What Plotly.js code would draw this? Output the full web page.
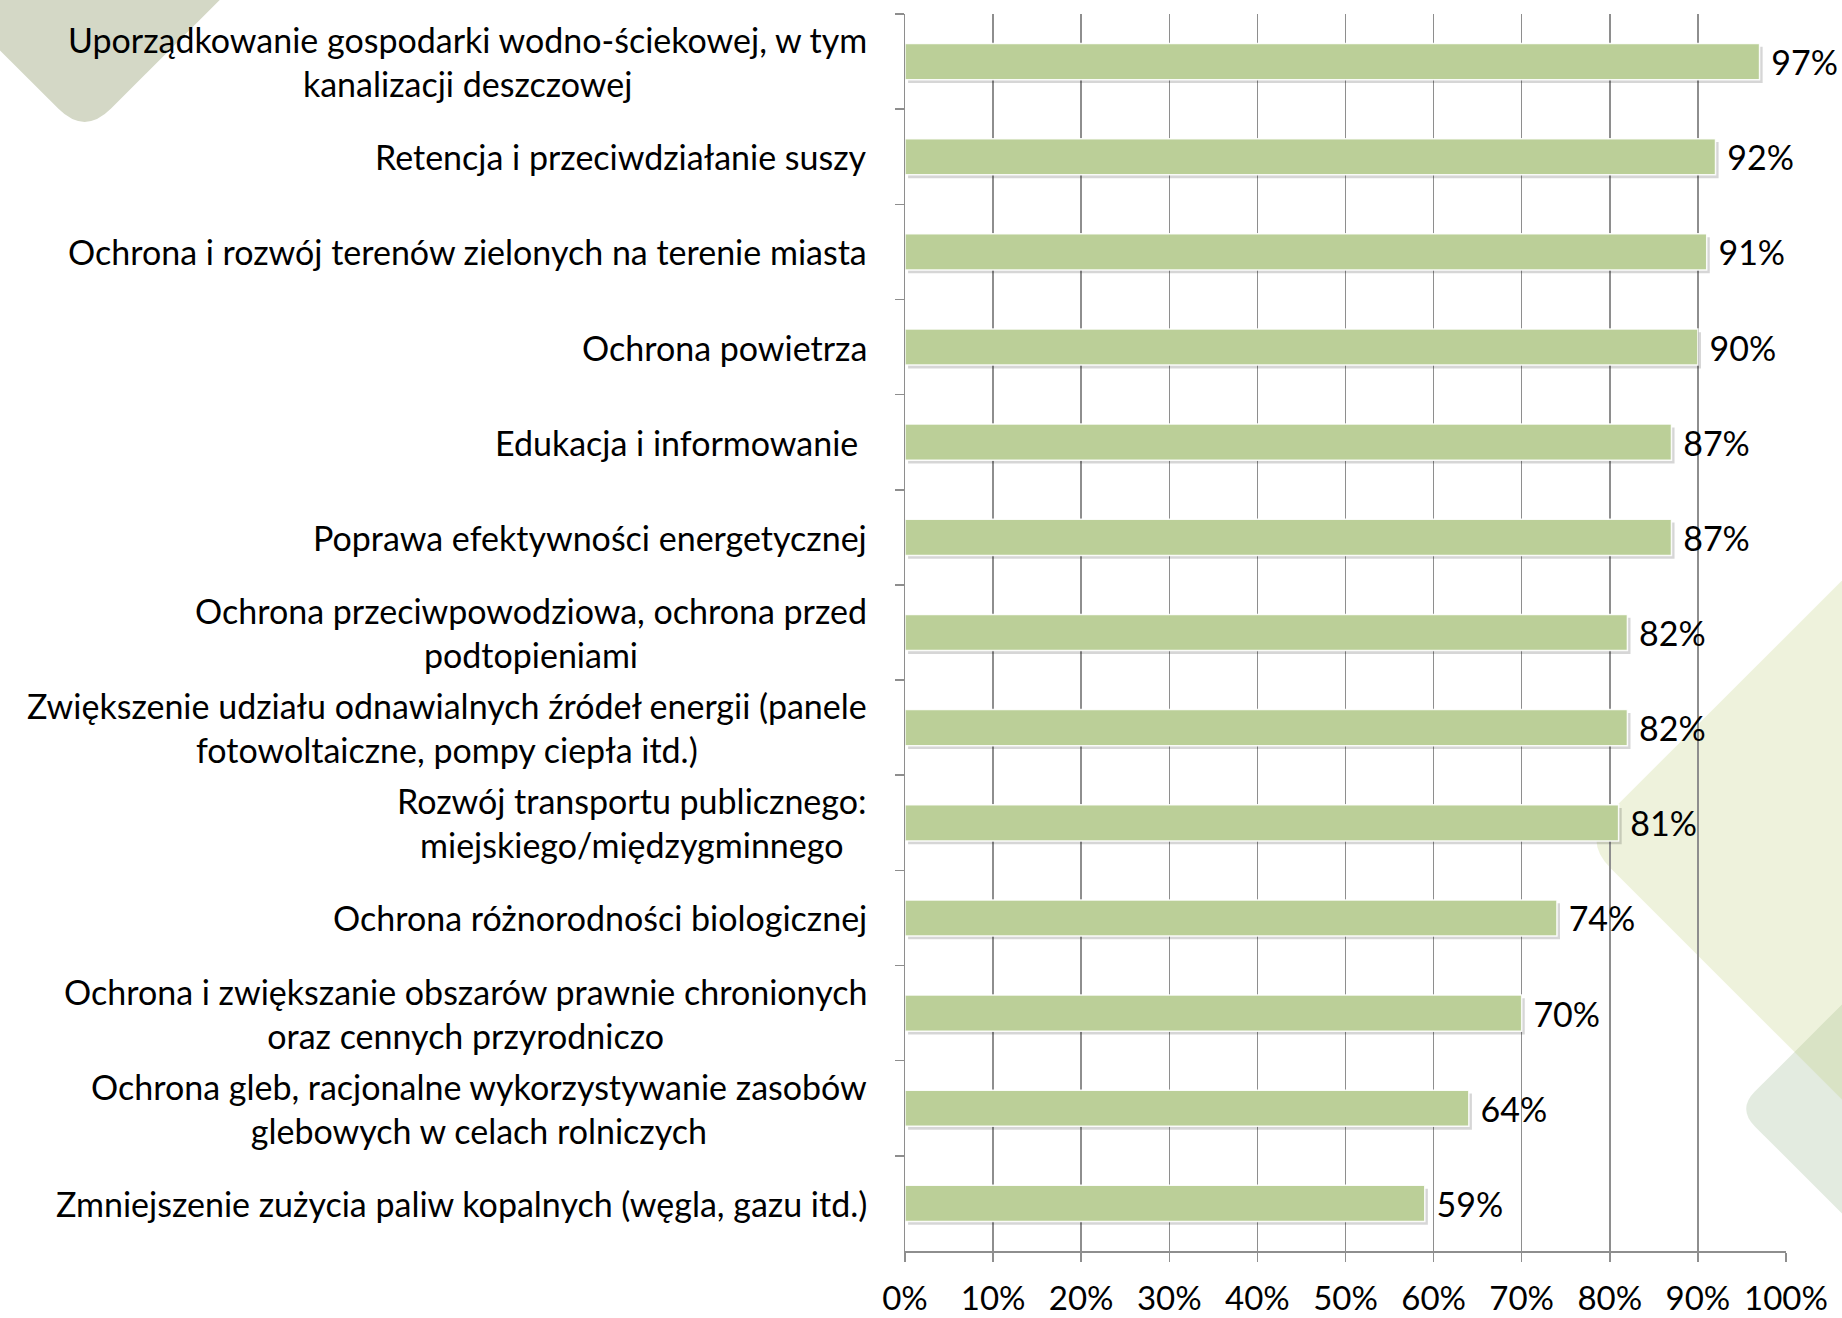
<!DOCTYPE html>
<html>
<head>
<meta charset="utf-8">
<script src="https://cdn.plot.ly/plotly-3.0.1.min.js"></script>
<style>html,body{margin:0;padding:0;background:#fff;}#chart{width:1842px;height:1318px;}</style>
</head>
<body>
<div id="chart"></div>
<script>
// ---- data ----
const categories = [
  "Uporządkowanie gospodarki wodno-ściekowej, w tym<br>kanalizacji deszczowej",
  "Retencja i przeciwdziałanie suszy",
  "Ochrona i rozwój terenów zielonych na terenie miasta",
  "Ochrona powietrza",
  "Edukacja i informowanie ",
  "Poprawa efektywności energetycznej",
  "Ochrona przeciwpowodziowa, ochrona przed<br>podtopieniami",
  "Zwiększenie udziału odnawialnych źródeł energii (panele<br>fotowoltaiczne, pompy ciepła itd.)",
  "Rozwój transportu publicznego:<br>miejskiego/międzygminnego",
  "Ochrona różnorodności biologicznej",
  "Ochrona i zwiększanie obszarów prawnie chronionych<br>oraz cennych przyrodniczo",
  "Ochrona gleb, racjonalne wykorzystywanie zasobów<br>glebowych w celach rolniczych",
  "Zmniejszenie zużycia paliw kopalnych (węgla, gazu itd.)"
];
const values = [97, 92, 91, 90, 87, 87, 82, 82, 81, 74, 70, 64, 59];
const tickValues = [0, 10, 20, 30, 40, 50, 60, 70, 80, 90, 100];
const tickLabels = ["0%", "10%", "20%", "30%", "40%", "50%", "60%", "70%", "80%", "90%", "100%"];

// ---- layout geometry (pixels) ----
const W = 1842, H = 1318;
const L = 905, R = 1785.6, T = 14, B = 1251;
const FONT = "Lato, 'Open Sans', sans-serif";
const FS = 34;
const GRID = "#8E8E8E";
const BAR = "#BBCF98";

function px(x) { return (x - L) / (R - L); }
function py(y) { return (B - y) / (B - T); }
function roundedPath(pts, cornerIdx, r) {
  let d = "";
  pts.forEach((p, i) => {
    if (i === cornerIdx) {
      const prev = pts[i - 1], next = pts[i + 1];
      const u1 = [prev[0] - p[0], prev[1] - p[1]], u2 = [next[0] - p[0], next[1] - p[1]];
      const l1 = Math.hypot(u1[0], u1[1]), l2 = Math.hypot(u2[0], u2[1]);
      const a = [p[0] + r * u1[0] / l1, p[1] + r * u1[1] / l1];
      const b = [p[0] + r * u2[0] / l2, p[1] + r * u2[1] / l2];
      d += ` L ${px(a[0])} ${py(a[1])} Q ${px(p[0])} ${py(p[1])} ${px(b[0])} ${py(b[1])}`;
    } else {
      d += (i === 0 ? "M" : " L") + ` ${px(p[0])} ${py(p[1])}`;
    }
  });
  return d + " Z";
}

const shapes = [
  { type: "path", xref: "paper", yref: "paper", layer: "below", line: { width: 0 },
    fillcolor: "#D4D8C6",
    path: roundedPath([[-50, -10], [230, -10], [85, 135], [-50, 0]], 2, 37) },
  { type: "path", xref: "paper", yref: "paper", layer: "below", line: { width: 0 },
    fillcolor: "rgba(150,180,140,0.27)",
    path: roundedPath([[1862, 984], [1737, 1109], [1862, 1234]], 1, 25) },
  { type: "path", xref: "paper", yref: "paper", layer: "below", line: { width: 0 },
    fillcolor: "rgba(190,205,120,0.26)",
    path: roundedPath([[1862, 560], [1582, 840], [1862, 1120]], 1, 40) }
];

const annotations = categories.map(c => ({
  xref: "paper", yref: "y", x: 0, y: c, xshift: -36,
  xanchor: "right", yanchor: "middle", align: "center", showarrow: false,
  text: c.replace(/ $/, "\u00a0"),
  font: { family: FONT, size: FS, color: "#000" }
}));

const BW = 0.38;
const traces = [
  { type: "bar", orientation: "h", x: values, y: categories, base: 0.35,
    width: BW, offset: -BW / 2 + 0.035,
    marker: { color: "rgba(0,0,0,0.16)", line: { width: 0 } },
    hoverinfo: "skip", showlegend: false },
  { type: "bar", orientation: "h", x: values, y: categories,
    width: BW, offset: -BW / 2,
    marker: { color: BAR, line: { color: "rgba(255,255,255,0.9)", width: 1.5 } },
    text: values.map(v => "\u00a0" + v + "%"),
    textposition: "outside", constraintext: "none", cliponaxis: false,
    textfont: { family: FONT, size: FS, color: "#000" },
    showlegend: false }
];

const layout = {
  width: W, height: H,
  margin: { l: L, r: W - R, t: T, b: H - B, pad: 0 },
  paper_bgcolor: "#fff", plot_bgcolor: "rgba(0,0,0,0)",
  barmode: "overlay", showlegend: false,
  font: { family: FONT, size: FS, color: "#000" },
  xaxis: {
    range: [0, 100], tickvals: tickValues, ticktext: tickLabels,
    showgrid: true, gridcolor: GRID, gridwidth: 1.5, zeroline: false,
    showline: true, linecolor: GRID, linewidth: 1.5,
    ticks: "outside", ticklen: 9, tickcolor: GRID, tickwidth: 1.5,
    ticklabelstandoff: 9,
    tickfont: { family: FONT, size: 33, color: "#000" }
  },
  yaxis: {
    type: "category", categoryarray: categories, categoryorder: "array",
    range: [categories.length - 0.5, -0.5],
    showgrid: false, zeroline: false, showticklabels: false,
    showline: true, linecolor: GRID, linewidth: 1.5,
    ticks: "outside", tickson: "boundaries", ticklen: 9, tickcolor: GRID, tickwidth: 1.5
  },
  shapes: shapes,
  annotations: annotations
};

Plotly.newPlot("chart", traces, layout, { staticPlot: true, displayModeBar: false });
</script>
</body>
</html>
